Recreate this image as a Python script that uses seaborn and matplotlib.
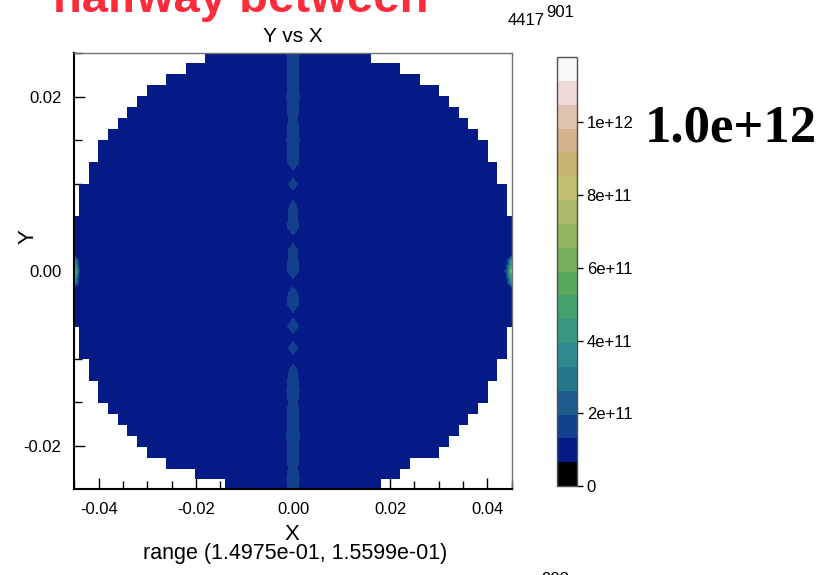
import numpy as np
import matplotlib
matplotlib.use("Agg")
import matplotlib.pyplot as plt
from matplotlib.colors import ListedColormap
from matplotlib.ticker import MultipleLocator, FixedLocator
import seaborn as sns

# ---- mesh layout ---------------------------------------------------------
mesh_dx = 0.002          # column spacing (X)
mesh_dy = 0.00125        # row spacing (Y)
n_half_cols = 24         # columns run from -24*dx to +24*dx
n_half_rows = 21         # rows run from -21*dy to +21*dy

# disk extent along each mesh row, listed bottom -> top
row_left_extent = [0.012, 0.014, 0.020, 0.026, 0.030, 0.032, 0.034, 0.036,
                   0.038, 0.040, 0.040, 0.042, 0.042, 0.044, 0.044, 0.044,
                   0.046, 0.046, 0.046, 0.046, 0.046,
                   0.046,
                   0.046, 0.046, 0.046, 0.046, 0.046, 0.044, 0.044, 0.044,
                   0.042, 0.042, 0.040, 0.040, 0.038, 0.036, 0.034, 0.032,
                   0.030, 0.026, 0.022, 0.018, 0.012]
row_right_extent = [0.016, 0.018, 0.022, 0.024, 0.030, 0.032, 0.034, 0.036,
                    0.038, 0.040, 0.040, 0.042, 0.042, 0.044, 0.044, 0.044,
                    0.046, 0.046, 0.046, 0.046, 0.046,
                    0.046,
                    0.046, 0.046, 0.046, 0.046, 0.046, 0.044, 0.044, 0.044,
                    0.042, 0.042, 0.040, 0.040, 0.038, 0.036, 0.034, 0.032,
                    0.030, 0.026, 0.022, 0.016, 0.012]

# field values
body_level = 1.0e11
# values along the x = 0 column, bottom -> top
center_column = [1.90e11, 1.70e11, 1.85e11, 1.60e11, 1.80e11, 1.65e11,
                 1.90e11, 1.70e11, 1.75e11, 1.60e11, 1.85e11, 1.70e11,
                 1.50e11, 1.10e11, 1.60e11, 1.10e11, 1.70e11, 1.15e11,
                 1.75e11, 1.60e11, 1.10e11, 1.70e11, 1.65e11, 1.55e11,
                 1.10e11, 1.70e11, 1.60e11, 1.50e11, 1.10e11, 1.55e11,
                 1.10e11, 1.80e11, 1.65e11, 1.85e11, 1.70e11, 1.60e11,
                 1.75e11, 1.85e11, 1.70e11, 1.80e11, 1.65e11, 1.90e11,
                 1.80e11]
# bright spots on the rim
spot_x = [-0.046, -0.046, -0.046,
          0.046, 0.046, 0.046, 0.044]
spot_y = [0.00125, 0.0, -0.00125,
          0.00125, 0.0, -0.00125, 0.0]
spot_val = [6.0e11, 1.17e12, 6.0e11,
            6.0e11, 1.17e12, 6.0e11, 1.4e11]

# colour table, bottom band -> top band
band_colors = ["#000000", "#041b87", "#12408c", "#1c5d8c", "#26778e",
               "#318a8d", "#3a9583", "#44a06c", "#56a95c", "#74b15a",
               "#92b560", "#adbc6c", "#c2c070", "#c9b46f", "#d3b28d",
               "#e0c3b0", "#eedad6", "#f9f9f9"]
v_min, v_max = 0.0, 1.18e12
cbar_ticks = [0, 2e11, 4e11, 6e11, 8e11, 1e12]

# ---- build the field -----------------------------------------------------
xs = np.arange(-n_half_cols, n_half_cols + 1) * mesh_dx
ys = np.arange(-n_half_rows, n_half_rows + 1) * mesh_dy
X, Y = np.meshgrid(xs, ys)
Z = np.full(X.shape, body_level)
Z[:, n_half_cols] = center_column
for sx, sy, sv in zip(spot_x, spot_y, spot_val):
    i = int(round(sy / mesh_dy)) + n_half_rows
    j = int(round(sx / mesh_dx)) + n_half_cols
    Z[i, j] = sv
for i in range(len(ys)):
    outside = (xs < -row_left_extent[i] - 1e-6) | (xs > row_right_extent[i] + 1e-6)
    Z[i, outside] = np.nan
Zm = np.ma.masked_invalid(Z)

# ---- style ---------------------------------------------------------------
sns.set_style("ticks")
plt.rcParams["font.family"] = ["Liberation Sans", "DejaVu Sans"]
plt.rcParams["xtick.direction"] = "in"
plt.rcParams["ytick.direction"] = "in"
for key in ("text.color", "axes.labelcolor", "xtick.color", "ytick.color"):
    plt.rcParams[key] = "black"

W, H = 838, 575
fig = plt.figure(figsize=(W / 100, H / 100), dpi=100)
ax = fig.add_axes([74 / W, (H - 489) / H, (512 - 74) / W, (489 - 53) / H])

cmap = ListedColormap(band_colors)
levels = np.linspace(v_min, v_max, len(band_colors) + 1)
cs = ax.contourf(X, Y, Zm, levels=levels, cmap=cmap, corner_mask=False)

ax.set_xlim(-0.0451, 0.0451)
ax.set_ylim(-0.0249, 0.0250)
ax.xaxis.set_major_locator(FixedLocator([-0.04, -0.02, 0.0, 0.02, 0.04]))
ax.yaxis.set_major_locator(FixedLocator([-0.02, 0.0, 0.02]))
ax.xaxis.set_minor_locator(MultipleLocator(0.005))
ax.yaxis.set_minor_locator(MultipleLocator(0.005))
ax.xaxis.set_major_formatter(plt.FuncFormatter(lambda v, p: f"{v:.2f}"))
ax.yaxis.set_major_formatter(plt.FuncFormatter(lambda v, p: f"{v:.2f}"))
ax.tick_params(which="major", length=8, width=1, labelsize=12, pad=9,
               top=False, right=False, color="black")
ax.tick_params(which="minor", length=6, width=1, top=False, right=False,
               color="black")
for side in ("left", "bottom"):
    ax.spines[side].set_color("black")
    ax.spines[side].set_linewidth(1.5)
for side in ("top", "right"):
    ax.spines[side].set_color("#707070")
    ax.spines[side].set_linewidth(1.0)
ax.set_xlabel("")
ax.set_ylabel("")

# colour bar
cax = fig.add_axes([557 / W, (H - 486) / H, 20 / W, (486 - 57) / H])
cb = fig.colorbar(cs, cax=cax, ticks=cbar_ticks, format="%g")
cb.outline.set_edgecolor("#505050")
cb.outline.set_linewidth(1.0)
cax.tick_params(direction="out", length=4, width=1, labelsize=12, pad=3,
                color="black")

# ---- text ----------------------------------------------------------------
fig.text(293 / W, 1 - 36 / H, "Y vs X", ha="center", va="center", fontsize=15)
fig.text(292 / W, 1 - 534 / H, "X", ha="center", va="center", fontsize=16)
fig.text(28 / W, 1 - 237 / H, "Y", ha="center", va="center", fontsize=16,
         rotation=90)
fig.text(295 / W, 1 - 553 / H, "range (1.4975e-01, 1.5599e-01)", ha="center",
         va="center", fontsize=15.5)
fig.text(53 / W, 1 - 12 / H, "halfway between", ha="left", va="baseline",
         fontsize=34, fontweight="bold", color="#fe2b3a")
fig.text(508 / W, 1 - 25 / H, "4417", ha="left", va="baseline", fontsize=12)
fig.text(546 / W, 1 - 17 / H, "901", ha="left", va="baseline", fontsize=12)
fig.text(541 / W, 1 - 584 / H, "903", ha="left", va="baseline", fontsize=12)
fig.text(645 / W, 1 - 142 / H, "1.0e+12", ha="left", va="baseline",
         fontsize=38, fontweight="bold", family=["Liberation Serif"])

fig.savefig("out.png", dpi=100)
